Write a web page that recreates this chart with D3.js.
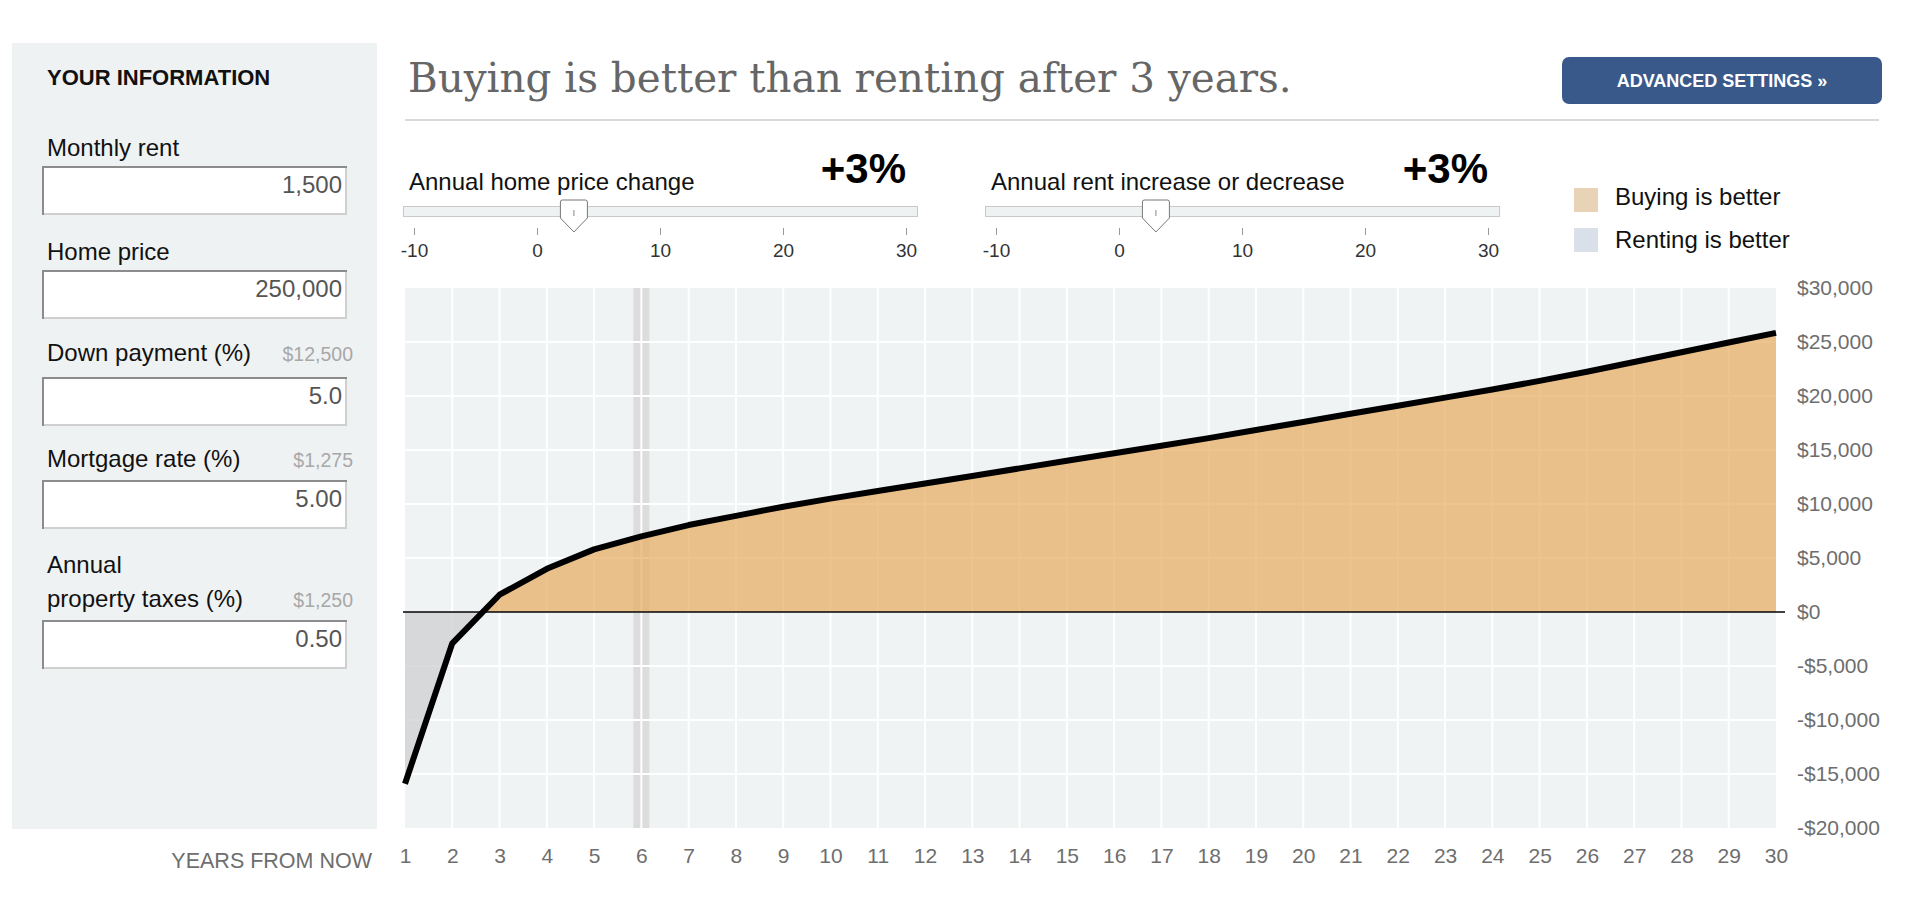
<!DOCTYPE html>
<html>
<head>
<meta charset="utf-8">
<script src="https://cdn.jsdelivr.net/npm/d3@7"></script>
<style>
  html, body { margin: 0; padding: 0; background: #fff; }
  svg { display: block; font-family: "Liberation Sans", Arial, Helvetica, sans-serif; }
</style>
</head>
<body>
<svg id="chart" width="1910" height="912"></svg>
<script>
// ---------------- DATA ----------------
const years = d3.range(1, 31);
const advantage = [-15900, -2900, 1600, 4000, 5800, 7000, 8050, 8900, 9750, 10500,
                   11200, 11900, 12600, 13300, 14000, 14700, 15400, 16100, 16850, 17600,
                   18350, 19100, 19850, 20600, 21400, 22250, 23150, 24050, 24950, 25850];
const yTicks = [-20000, -15000, -10000, -5000, 0, 5000, 10000, 15000, 20000, 25000, 30000];
const highlightYear = 6;
const titleText = "Buying is better than renting after 3 years.";
const infoFields = [
  { label: ["Monthly rent"], value: "1,500", note: "" },
  { label: ["Home price"], value: "250,000", note: "" },
  { label: ["Down payment (%)"], value: "5.0", note: "$12,500" },
  { label: ["Mortgage rate (%)"], value: "5.00", note: "$1,275" },
  { label: ["Annual", "property taxes (%)"], value: "0.50", note: "$1,250" }
];
const sliderTicks = [-10, 0, 10, 20, 30];
const sliders = [
  { label: "Annual home price change", value: 3 },
  { label: "Annual rent increase or decrease", value: 3 }
];
const legendItems = [
  { label: "Buying is better", color: "#e8d3b6" },
  { label: "Renting is better", color: "#d9e0ea" }
];

// ---------------- LAYOUT ----------------
const svg = d3.select("#chart");
const plot = { left: 405, right: 1776, top: 288, bottom: 828 };
const x = d3.scaleLinear().domain([1, 30]).range([plot.left, plot.right]);
const y = d3.scaleLinear().domain([-20000, 30000]).range([plot.bottom, plot.top]);
const data = years.map((yr, i) => ({ year: yr, v: advantage[i] }));

// ---------- Left info panel ----------
svg.append("rect").attr("x", 12).attr("y", 43).attr("width", 365).attr("height", 786).attr("fill", "#eff2f3");
svg.append("text").attr("x", 47).attr("y", 85).attr("font-size", 22).attr("font-weight", "bold")
  .attr("fill", "#111").text("YOUR INFORMATION");

const labelBase = [[156], [260], [361], [467], [573, 607]];
const boxTop = [166, 270, 377, 480, 620];
infoFields.forEach((f, i) => {
  f.label.forEach((line, j) => {
    svg.append("text").attr("x", 47).attr("y", labelBase[i][j]).attr("font-size", 24)
      .attr("fill", "#111").text(line);
  });
  if (f.note) {
    svg.append("text").attr("x", 353).attr("y", labelBase[i][labelBase[i].length - 1])
      .attr("text-anchor", "end").attr("font-size", 19.5).attr("fill", "#a8a8a8").text(f.note);
  }
  const bt = boxTop[i], bl = 42, br = 347, bb = bt + 49;
  svg.append("rect").attr("x", bl).attr("y", bt).attr("width", br - bl).attr("height", bb - bt)
    .attr("fill", "#fff");
  svg.append("path").attr("d", `M${bl + 1},${bb} V${bt + 1} H${br}`).attr("fill", "none")
    .attr("stroke", "#8c8c8c").attr("stroke-width", 2);
  svg.append("path").attr("d", `M${bl + 2},${bb - 1} H${br - 1} V${bt + 2}`).attr("fill", "none")
    .attr("stroke", "#cfcfcf").attr("stroke-width", 2);
  svg.append("text").attr("x", 342).attr("y", bt + 27).attr("text-anchor", "end")
    .attr("font-size", 24).attr("fill", "#555").text(f.value);
});

// ---------- Title ----------
const title = svg.append("text").attr("x", 408).attr("y", 92)
  .attr("font-family", "Georgia, 'DejaVu Serif', 'Liberation Serif', serif")
  .attr("font-size", 44).attr("fill", "#666").text(titleText);
// fit title to the width it occupies in the layout
const targetTitleWidth = 884;
const measured = title.node().getComputedTextLength();
if (measured > 0) title.attr("font-size", 44 * targetTitleWidth / measured);
svg.append("line").attr("x1", 405).attr("x2", 1879).attr("y1", 120).attr("y2", 120)
  .attr("stroke", "#cdcdcd").attr("stroke-width", 1.5);

// ---------- Button ----------
svg.append("rect").attr("x", 1562).attr("y", 57).attr("width", 320).attr("height", 47).attr("rx", 7)
  .attr("fill", "#38598a");
svg.append("text").attr("x", 1722).attr("y", 87).attr("text-anchor", "middle").attr("font-size", 18)
  .attr("font-weight", "bold").attr("fill", "#fff").text("ADVANCED SETTINGS \u00bb");

// ---------- Sliders ----------
const sliderX0 = [403, 985];
sliders.forEach((s, i) => {
  const x0 = sliderX0[i];
  const sx = d3.scaleLinear().domain([-10, 30]).range([x0 + 11, x0 + 503]);
  const g = svg.append("g");
  g.append("text").attr("x", x0 + 6).attr("y", 190).attr("font-size", 24).attr("fill", "#111").text(s.label);
  g.append("text").attr("x", sx(30)).attr("y", 183).attr("text-anchor", "end").attr("font-size", 42)
    .attr("font-weight", "bold").attr("fill", "#000").text((s.value > 0 ? "+" : "") + s.value + "%");
  g.append("rect").attr("x", x0 + 0.5).attr("y", 206.5).attr("width", 514).attr("height", 10)
    .attr("fill", "#eff2f2").attr("stroke", "#c9c9c9").attr("stroke-width", 1);
  const ax = d3.axisBottom(sx).tickValues(sliderTicks).tickSize(7).tickPadding(9).tickFormat(d => String(d));
  const axg = g.append("g").attr("transform", "translate(0,228)").call(ax);
  axg.select(".domain").remove();
  axg.selectAll(".tick line").attr("stroke", "#999").attr("shape-rendering", "crispEdges");
  axg.selectAll(".tick text").attr("font-size", 19).attr("fill", "#333")
    .attr("font-family", "'Liberation Sans', Arial, sans-serif");
  const cx = sx(s.value);
  g.append("path").attr("d", `M${cx - 13.5},202 Q${cx - 13.5},200 ${cx - 11.5},200 H${cx + 11.5} Q${cx + 13.5},200 ${cx + 13.5},202 V218 L${cx},232 L${cx - 13.5},218 Z`)
    .attr("fill", "#fff").attr("stroke", "#777").attr("stroke-width", 1);
  g.append("line").attr("x1", cx).attr("x2", cx).attr("y1", 210).attr("y2", 216)
    .attr("stroke", "#888").attr("stroke-width", 1);
});

// ---------- Legend ----------
legendItems.forEach((d, i) => {
  svg.append("rect").attr("x", 1574).attr("y", 188 + i * 40).attr("width", 24).attr("height", 24).attr("fill", d.color);
  svg.append("text").attr("x", 1615).attr("y", 205 + i * 43).attr("font-size", 24).attr("fill", "#111").text(d.label);
});

// ---------- Plot ----------
svg.append("rect").attr("x", plot.left).attr("y", plot.top).attr("width", plot.right - plot.left)
  .attr("height", plot.bottom - plot.top).attr("fill", "#eff3f4");
// highlight band
svg.append("rect").attr("x", x(highlightYear) - 8).attr("y", plot.top).attr("width", 16)
  .attr("height", plot.bottom - plot.top).attr("fill", "#dcdcdd");
// grid
svg.append("g").selectAll("line").data(years.slice(1, -1)).join("line")
  .attr("x1", d => x(d)).attr("x2", d => x(d)).attr("y1", plot.top).attr("y2", plot.bottom)
  .attr("stroke", "#fff").attr("stroke-width", 2);
svg.append("g").selectAll("line").data(yTicks.slice(1, -1)).join("line")
  .attr("x1", plot.left).attr("x2", plot.right).attr("y1", d => y(d)).attr("y2", d => y(d))
  .attr("stroke", "#fff").attr("stroke-width", 2);

// areas
const defs = svg.append("defs");
defs.append("clipPath").attr("id", "clipPos").append("rect")
  .attr("x", plot.left).attr("y", plot.top).attr("width", plot.right - plot.left).attr("height", y(0) - plot.top);
defs.append("clipPath").attr("id", "clipNeg").append("rect")
  .attr("x", plot.left).attr("y", y(0)).attr("width", plot.right - plot.left).attr("height", plot.bottom - y(0));
const area = d3.area().x(d => x(d.year)).y0(y(0)).y1(d => y(d.v));
svg.append("path").datum(data).attr("d", area).attr("clip-path", "url(#clipPos)")
  .attr("fill", "#e8af67").attr("fill-opacity", 0.75);
svg.append("path").datum(data).attr("d", area).attr("clip-path", "url(#clipNeg)")
  .attr("fill", "#cecfd0").attr("fill-opacity", 0.75);

// zero line
svg.append("line").attr("x1", plot.left - 2).attr("x2", plot.right + 9).attr("y1", y(0)).attr("y2", y(0))
  .attr("stroke", "#000").attr("stroke-width", 1.5);

// data line
const line = d3.line().x(d => x(d.year)).y(d => y(d.v));
svg.append("path").datum(data).attr("d", line).attr("fill", "none").attr("stroke", "#000")
  .attr("stroke-width", 6).attr("stroke-linejoin", "round").attr("stroke-linecap", "butt");

// y axis
const fmt = v => (v < 0 ? "-$" : "$") + d3.format(",")(Math.abs(v));
const yAxis = d3.axisRight(y).tickValues(yTicks).tickSize(0).tickPadding(0).tickFormat(fmt);
const yg = svg.append("g").attr("transform", `translate(1797,0)`).call(yAxis);
yg.select(".domain").remove();
yg.selectAll(".tick text").attr("font-size", 21).attr("fill", "#6e6e6e")
  .attr("font-family", "'Liberation Sans', Arial, sans-serif");

// x axis
const xAxis = d3.axisBottom(x).tickValues(years).tickSize(0).tickPadding(0).tickFormat(d => String(d));
const xg = svg.append("g").attr("transform", `translate(0,848)`).call(xAxis);
xg.select(".domain").remove();
xg.selectAll(".tick text").attr("font-size", 21).attr("fill", "#6e6e6e")
  .attr("font-family", "'Liberation Sans', Arial, sans-serif");

svg.append("text").attr("x", 372).attr("y", 868).attr("text-anchor", "end").attr("font-size", 21.5)
  .attr("fill", "#6e6e6e").text("YEARS FROM NOW");
</script>
</body>
</html>
